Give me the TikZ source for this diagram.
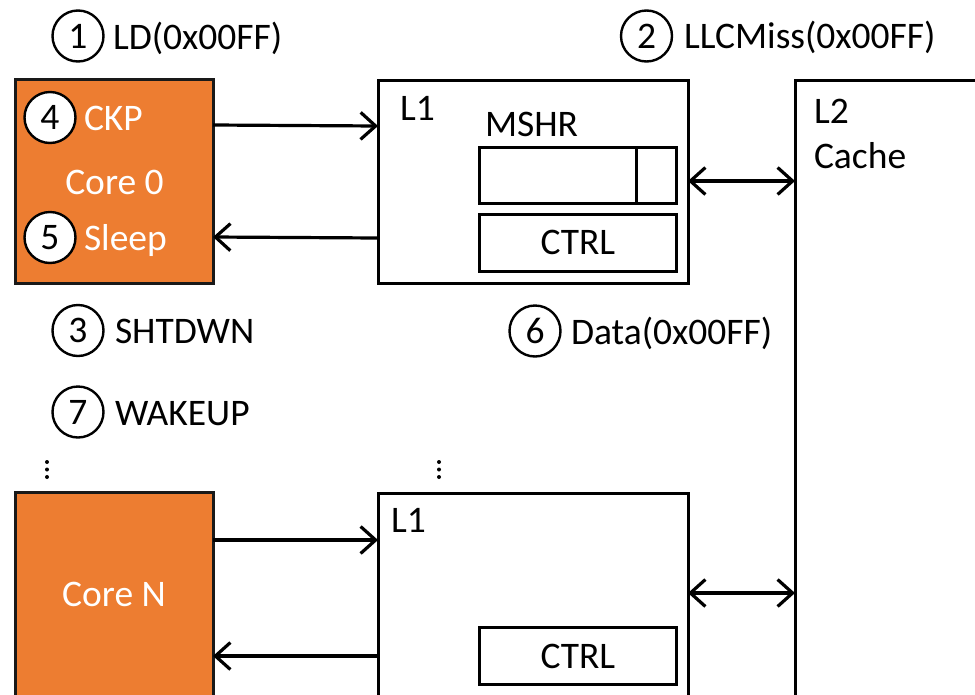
\documentclass[tikz,border=0pt]{standalone}
\usepackage{fontspec}
\setmainfont{Carlito}
\usetikzlibrary{arrows.meta}
\definecolor{coreorange}{HTML}{ED7D31}
\tikzset{
  every node/.style={font=\fontsize{37.5}{45}\selectfont, inner sep=0pt, outer sep=0pt},
  blk/.style={draw, line width=3pt, inner sep=0pt},
  corebox/.style={blk, fill=coreorange, draw=black!90},
  num/.style={draw, circle, line width=2.4pt, minimum size=51pt, inner sep=0pt, fill=white},
  lbl/.style={anchor=base west},
  wlbl/.style={anchor=base west, text=white},
  arr/.style={line width=3.2pt, -{Straight Barb[length=15pt,width=27pt,line width=3.2pt]}},
  dbl/.style={line width=3.2pt, {Straight Barb[length=15pt,width=27pt,line width=3.2pt]}-{Straight Barb[length=15pt,width=27pt,line width=3.2pt]}},
}
\begin{document}
\begin{tikzpicture}[x=1pt, y=-1pt]
  \useasboundingbox (0,0) rectangle (975,694);
  \clip (0,0) rectangle (975,694);

  % cores
  \node[corebox, minimum width=198pt, minimum height=204pt] (core0) at (114,181) {};
  \node[corebox, minimum width=198pt, minimum height=240pt] (coreN) at (114,612) {};
  \node[anchor=base, text=white] (core0t) at (114.5,194) {Core 0};
  \node[anchor=base, text=white] (coreNt) at (114,606) {Core N};

  % private L1 caches
  \node[blk, minimum width=310pt, minimum height=203pt] (l1a) at (533,181.5) {};
  \node[blk, minimum width=310pt, minimum height=240pt] (l1b) at (533,613) {};
  \node[lbl] (l1at) at (400,120) {L1};
  \node[lbl] (l1bt) at (391,532) {L1};
  \node[lbl] (mshrt) at (485,136) {MSHR};
  \node[blk, minimum width=197pt, minimum height=56pt] (mshr) at (577.5,175) {};
  \draw[line width=3pt] (636,147) -- (636,203);
  \node[blk, minimum width=197pt, minimum height=57pt] (ctrla) at (577.5,242.5) {};
  \node[anchor=base] (ctrlat) at (578,254) {CTRL};
  \node[blk, minimum width=197pt, minimum height=57pt] (ctrlb) at (577.5,655.5) {};
  \node[anchor=base] (ctrlbt) at (578,668) {CTRL};

  % shared L2
  \node[blk, minimum width=200pt, minimum height=660pt] (l2) at (895,410) {};
  \node[lbl] (l2t) at (814,123) {L2};
  \node[lbl] (cachet) at (814,168) {Cache};

  % connections
  \draw[arr] ([yshift=-46pt]core0.north east) -- ([yshift=-46pt]l1a.north west);
  \draw[arr] ([yshift=-158pt]l1a.north west) -- ([yshift=-158pt]core0.north east);
  \draw[dbl] ([yshift=-101pt]l1a.north east) -- ([yshift=-101pt]l2.north west);
  \draw[arr] ([yshift=-48pt]coreN.north east) -- ([yshift=-47pt]l1b.north west);
  \draw[arr] ([yshift=-163pt]l1b.north west) -- ([yshift=-164pt]coreN.north east);
  \draw[dbl] ([yshift=-100pt]l1b.north east) coordinate (b2) -- (b2 -| l2.west);

  % numbered steps
  \node[num] (s1) at (78,36) {1};
  \node[lbl] (s1t) at (113,49) {LD(0x00FF)};
  \node[num] (s2) at (646.5,36) {2};
  \node[lbl] (s2t) at (684,48) {LLCMiss(0x00FF)};
  \node[num] (s3) at (78,330.5) {3};
  \node[lbl] (s3t) at (115,343) {SHTDWN};
  \node[num] (s4) at (50,117.5) {4};
  \node[wlbl] (s4t) at (84,130) {CKP};
  \node[num] (s5) at (50,237.5) {5};
  \node[wlbl] (s5t) at (84,250) {Sleep};
  \node[num] (s6) at (535,331) {6};
  \node[lbl] (s6t) at (571,344) {Data(0x00FF)};
  \node[num] (s7) at (78,412) {7};
  \node[lbl] (s7t) at (115,425) {WAKEUP};

  % continuation marks
  \foreach \x in {47,439} {
    \foreach \y in {462,469.5,477} {
      \fill (\x,\y) circle (2pt);
    }
  }
\end{tikzpicture}
\end{document}
